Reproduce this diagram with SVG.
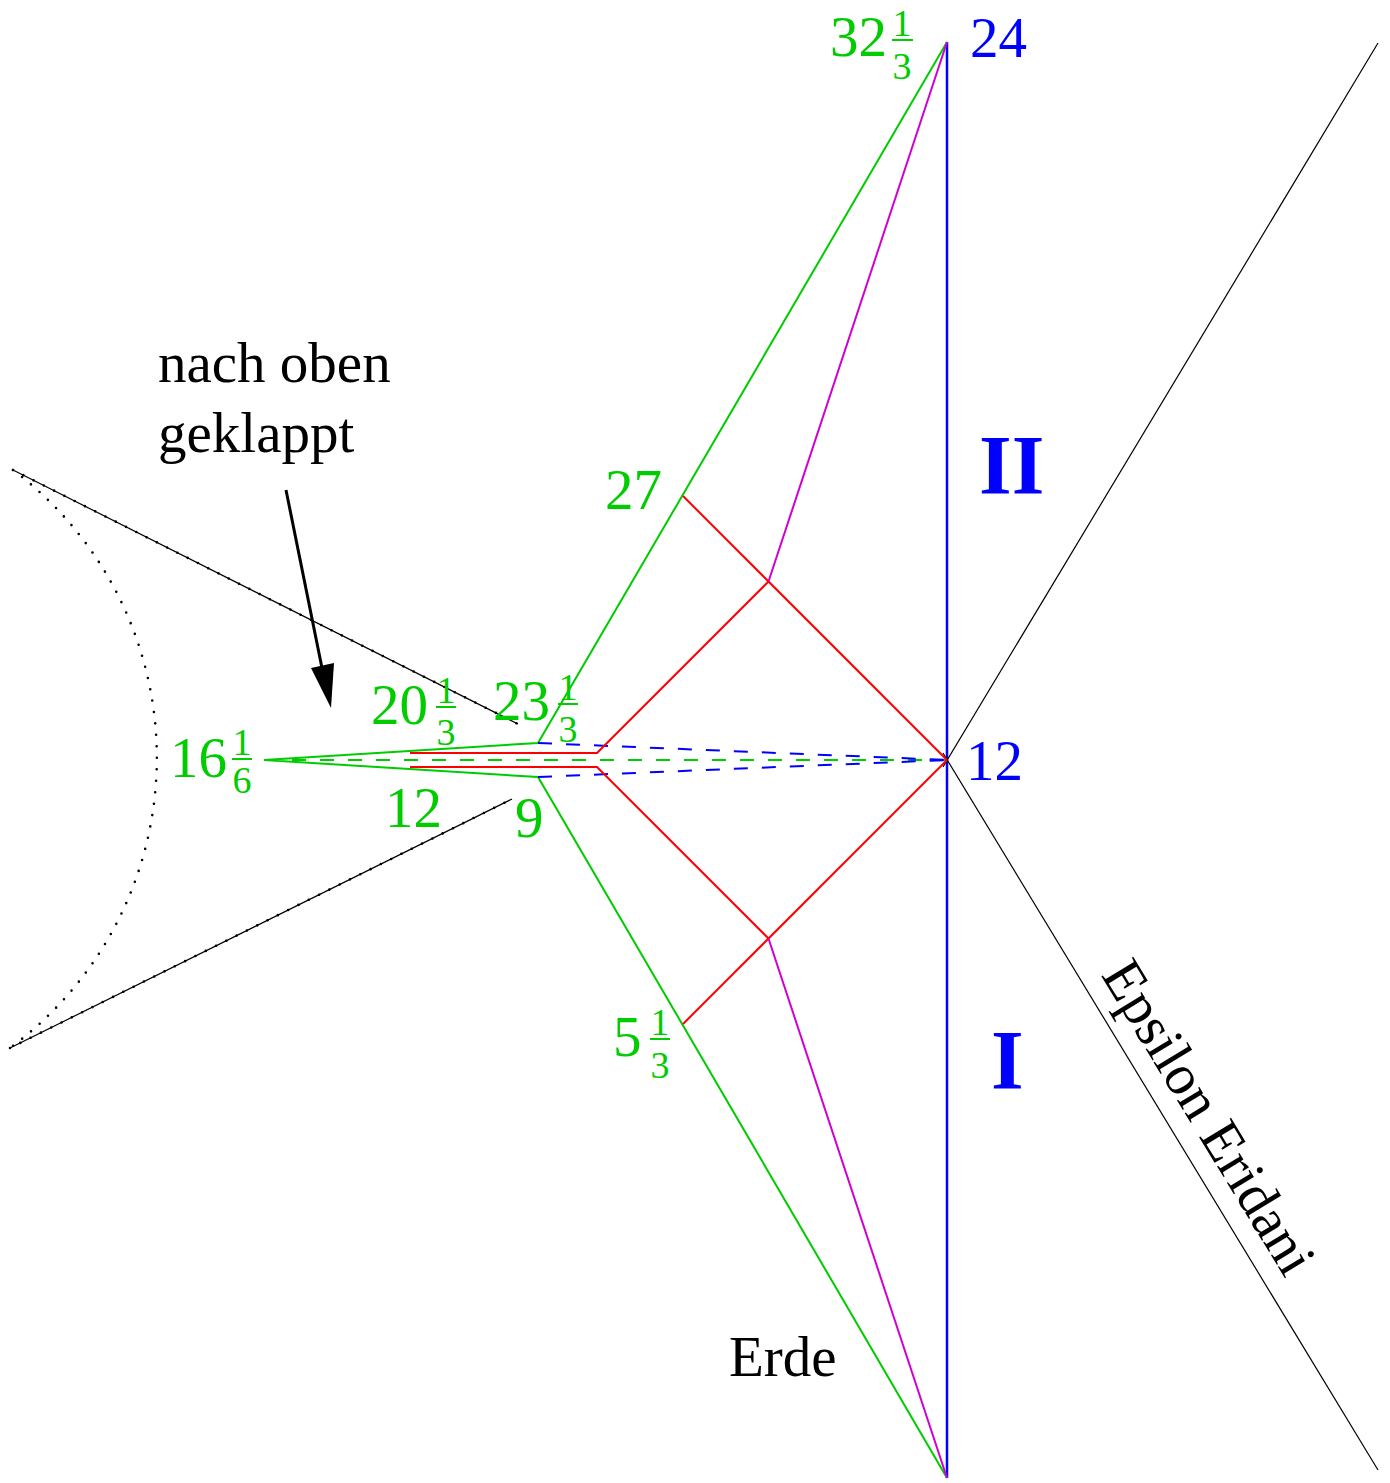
<svg xmlns="http://www.w3.org/2000/svg" width="1390" height="1483" viewBox="0 0 1390 1483">
<style>
text{font-family:"Liberation Serif","Times New Roman",serif;}
.g{fill:#00cc00;font-size:57px;}
.gf{fill:#00cc00;font-size:38px;text-anchor:middle;}
.b{fill:#0000ff;font-size:57px;}
.bb{fill:#0000ff;font-size:84px;font-weight:bold;}
.k{fill:#000;font-size:57px;}
.lg{stroke:#00cc00;stroke-width:2;fill:none;}
.lr{stroke:#ff0000;stroke-width:2;fill:none;}
.lm{stroke:#d000d0;stroke-width:2;fill:none;}
.lb{stroke:#0000ff;stroke-width:2.5;fill:none;}
.dg{stroke:#00cc00;stroke-width:2;stroke-dasharray:14 14;fill:none;}
.db{stroke:#0000ff;stroke-width:2;stroke-dasharray:14 14;fill:none;}
.lk{stroke:#000;stroke-width:1.2;fill:none;}
.dots{stroke:#000;stroke-width:2.6;stroke-linecap:round;stroke-dasharray:0 11.5;fill:none;}
.bar{stroke:#00cc00;stroke-width:2;}
</style>
<g id="connectors">
  <line class="lb" x1="947" y1="42" x2="947" y2="1478"/>
  <line class="lk" x1="943" y1="767" x2="1378" y2="43"/>
  <line class="lk" x1="943" y1="753" x2="1378" y2="1470"/>
  <polyline class="lg" points="947,42 538,743 264,760 538,777 947,1478"/>
  <line class="dg" x1="264" y1="760" x2="947" y2="760"/>
  <line class="db" x1="538" y1="743" x2="947" y2="760"/>
  <line class="db" x1="538" y1="777" x2="947" y2="760"/>
  <polyline class="lr" points="410,753 597,753 768.5,581.5"/>
  <line class="lr" x1="683" y1="496" x2="947" y2="760"/>
  <polyline class="lr" points="410,767 597,767 768.5,938.5"/>
  <line class="lr" x1="683" y1="1024" x2="947" y2="760"/>
  <line class="lm" x1="768.5" y1="581.5" x2="947" y2="42"/>
  <line class="lm" x1="768.5" y1="938.5" x2="947" y2="1478"/>
  <line class="lk" x1="13" y1="470" x2="518" y2="724"/>
  <line class="dots" x1="13" y1="470" x2="518" y2="724"/>
  <line class="lk" x1="10" y1="1048" x2="512" y2="799"/>
  <line class="dots" x1="10" y1="1048" x2="512" y2="799"/>
  <path class="dots" d="M 13 470 A 360 360 0 0 1 10 1048"/>
  <line x1="286" y1="490" x2="322" y2="668" stroke="#000" stroke-width="3"/>
  <polygon points="331,708 311,668 334,663" fill="#000"/>
</g>
<g id="label-32-1-3">
  <text class="g" x="830" y="56">32</text>
  <text class="gf" x="902" y="36">1</text>
  <line class="bar" x1="892" y1="40" x2="913" y2="40"/>
  <text class="gf" x="902" y="79">3</text>
</g>
<g id="label-24"><text class="b" x="970" y="57">24</text></g>
<g id="label-27"><text class="g" x="605" y="509">27</text></g>
<g id="label-II"><text class="bb" x="979" y="494">II</text></g>
<g id="label-nach-oben">
  <text class="k" x="158" y="382">nach oben</text>
  <text class="k" x="158" y="452">geklappt</text>
</g>
<g id="label-20-1-3">
  <text class="g" x="371" y="724">20</text>
  <text class="gf" x="446" y="703">1</text>
  <line class="bar" x1="436" y1="707" x2="456" y2="707"/>
  <text class="gf" x="446" y="745">3</text>
</g>
<g id="label-23-1-3">
  <text class="g" x="493" y="720">23</text>
  <text class="gf" x="568" y="700">1</text>
  <line class="bar" x1="558" y1="704" x2="578" y2="704"/>
  <text class="gf" x="568" y="742">3</text>
</g>
<g id="label-16-1-6">
  <text class="g" x="170" y="777">16</text>
  <text class="gf" x="242" y="755">1</text>
  <line class="bar" x1="232" y1="759" x2="252" y2="759"/>
  <text class="gf" x="242" y="793">6</text>
</g>
<g id="label-12-green"><text class="g" x="385" y="827">12</text></g>
<g id="label-9"><text class="g" x="515" y="837">9</text></g>
<g id="label-12-blue"><text class="b" x="966" y="780">12</text></g>
<g id="label-I"><text class="bb" x="991" y="1089">I</text></g>
<g id="label-5-1-3">
  <text class="g" x="613" y="1056">5</text>
  <text class="gf" x="660" y="1035">1</text>
  <line class="bar" x1="650" y1="1039" x2="670" y2="1039"/>
  <text class="gf" x="660" y="1078">3</text>
</g>
<g id="label-Erde"><text class="k" x="729" y="1376">Erde</text></g>
<g id="label-Epsilon-Eridani">
  <text class="k" text-anchor="middle" transform="translate(1193,1127) rotate(58.7)">Epsilon Eridani</text>
</g>
</svg>
